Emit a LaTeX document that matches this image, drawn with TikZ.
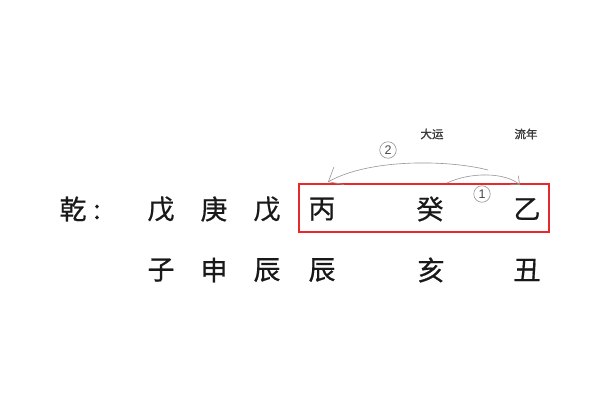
\documentclass[tikz,border=0pt]{standalone}
\usepackage{fontspec}
\newfontfamily\cjk[FakeBold=0.6]{Noto Sans CJK SC}
\newfontfamily\cjkb[FakeBold=1.2]{Noto Sans CJK SC}
\usetikzlibrary{arrows.meta}
\definecolor{boxred}{RGB}{232,40,44}
\definecolor{arcgray}{RGB}{150,150,150}
\definecolor{ink}{RGB}{25,25,25}
\tikzset{
  gz/.style={font=\cjk\fontsize{27}{27}\selectfont\addfontfeature{FakeBold=0.6}, text=ink, inner sep=0pt, anchor=center},
  lbl/.style={font=\cjkb\fontsize{11.5}{11.5}\selectfont, text=ink!85, inner sep=0pt},
  num/.style={circle, draw=arcgray, line width=0.6pt, minimum size=16.5pt, inner sep=0pt,
    font=\fontspec{Liberation Sans}\fontsize{12.5}{12.5}\selectfont, text=ink!80},
  arcline/.style={draw=arcgray, line width=0.6pt},
}
\begin{document}
\begin{tikzpicture}[x=1pt,y=-1pt]
\useasboundingbox (0,0) rectangle (600,400);
\fill[white] (0,0) rectangle (600,400);
% red box
\node[draw=boxred, line width=1.4pt, minimum width=250pt, minimum height=48pt, inner sep=0pt] (box) at (424,208) {};
% row 1
\node[gz] (qian) at (73,209) {乾};
\node[gz] (colon) at (97,212) {:};
\node[gz] (g1) at (161,209) {戊};
\node[gz] (g2) at (214,209) {庚};
\node[gz] (g3) at (267,209) {戊};
\node[gz] (g4) at (322,209) {丙};
\node[gz] (g5) at (430,209) {癸};
\node[gz] (g6) at (527,209) {乙};
% row 2
\node[gz] (z1) at (161,270) {子};
\node[gz] (z2) at (214,270) {申};
\node[gz] (z3) at (267,270) {辰};
\node[gz] (z4) at (322,270) {辰};
\node[gz] (z5) at (431,270) {亥};
\node[gz] (z6) at (527,270) {丑};
% labels
\node[lbl] (dayun) at (432,134) {大运};
\node[lbl] (liunian) at (526,134) {流年};
% circled numbers
\node[num] (n2) at (388,150) {2};
\node[num] (n1) at (482,194) {1};
% arcs
\coordinate (a2s) at (488,170);
\coordinate (a2e) at (328,182);
\coordinate (a1s) at (447,183);
\coordinate (a1e) at (520,185);
\draw[arcline, -{Straight Barb[length=12pt,width=20pt,line width=0.6pt]}] (a2s) .. controls (450,160) and (370,158) .. (a2e);
\draw[arcline, -{Straight Barb[length=7pt,width=12pt,line width=0.6pt]}] (a1s) .. controls (470,172) and (505,172) .. (a1e);
\end{tikzpicture}
\end{document}
